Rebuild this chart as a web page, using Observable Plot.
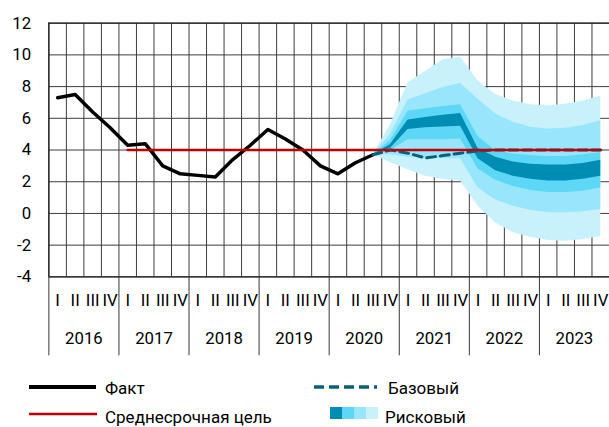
<!DOCTYPE html>
<html><head><meta charset="utf-8">
<script src="https://cdn.jsdelivr.net/npm/d3@7"></script>
<script src="https://cdn.jsdelivr.net/npm/@observablehq/plot@0.6"></script>
<style>
body{margin:0;background:#fff;font-family:Roboto,"Noto Sans",sans-serif;color:#000;}
#wrap{position:relative;width:609px;height:427px;overflow:hidden;background:#fff;}
#chart{position:absolute;left:0;top:0;}
.lt{position:absolute;font-size:17px;line-height:20px;white-space:nowrap;}
.ls{position:absolute;}
</style></head><body>
<div id="wrap"><div id="chart"></div><div id="legend"></div></div>
<script>
// ---- data ----
const years = [2016, 2017, 2018, 2019, 2020, 2021, 2022, 2023];
const quarterLabels = ["I", "II", "III", "IV"];
const yTicks = [-4, -2, 0, 2, 4, 6, 8, 10, 12];
// Факт, 2016 Q1 .. 2020 Q3
const fact = [7.3, 7.5, 6.4, 5.4, 4.3, 4.4, 3.0, 2.5, 2.4, 2.3, 3.4, 4.3, 5.3, 4.7, 4.0, 3.0, 2.5, 3.2, 3.7];
// Среднесрочная цель, from 2017 Q1
const targetValue = 4;
const targetStartQuarter = 4;
// Forecasts from 2020 Q3 to 2023 Q4
const forecastStartQuarter = 18;
const base = [3.7, 4.0, 3.8, 3.5, 3.65, 3.8, 3.95, 4.0, 4.0, 4.0, 4.0, 4.0, 4.0, 4.0];
const riskOuterTop   = [3.7, 5.6, 8.25, 8.95, 9.7, 9.85, 8.35, 7.5, 7.1, 6.85, 6.78, 6.88, 7.1, 7.4];
const riskLightTop   = [3.7, 5.0, 7.15, 7.55, 7.95, 8.2, 7.2, 6.27, 5.75, 5.44, 5.33, 5.37, 5.54, 5.85];
const riskMidTop     = [3.7, 4.6, 6.45, 6.6, 6.75, 6.85, 4.85, 3.95, 3.75, 3.65, 3.6, 3.6, 3.7, 3.85];
const riskCoreTop    = [3.7, 4.35, 5.9, 6.05, 6.2, 6.3, 4.1, 3.55, 3.25, 3.1, 3.05, 3.05, 3.15, 3.35];
const riskCoreBottom = [3.7, 4.1, 5.3, 5.4, 5.45, 5.5, 3.45, 2.7, 2.35, 2.15, 2.05, 2.05, 2.15, 2.35];
const riskMidBottom  = [3.7, 3.95, 4.65, 4.65, 4.65, 4.7, 2.8, 2.1, 1.7, 1.45, 1.32, 1.32, 1.4, 1.6];
const riskLightBottom= [3.7, 3.7, 3.55, 3.5, 3.45, 3.45, 1.6, 0.85, 0.45, 0.2, 0.05, 0.05, 0.1, 0.25];
const riskOuterBottom= [3.7, 3.2, 2.75, 2.35, 2.15, 2.05, 0.45, -0.6, -1.2, -1.5, -1.7, -1.75, -1.65, -1.45];
const bandColors = ["#c8f1fc", "#98e6fb", "#5ed7f7", "#008db4"];

// ---- derived tables ----
const nQ = years.length * 4;
const factData = fact.map((v, i) => ({x: i + 0.5, y: v}));
const fx = (i) => forecastStartQuarter + i + 0.5;
const baseData = base.map((v, i) => ({x: fx(i), y: v}));
const bands = [
  [riskOuterBottom, riskOuterTop],
  [riskLightBottom, riskLightTop],
  [riskMidBottom, riskMidTop],
  [riskCoreBottom, riskCoreTop]
].map(([lo, hi]) => lo.map((v, i) => ({x: fx(i), y1: v, y2: hi[i]})));
const targetData = d3.range(targetStartQuarter, nQ).map(q => ({x: q + 0.5, y: targetValue}));
const qBounds = d3.range(0, nQ + 1);
const yBounds = d3.range(0, nQ + 1, 4);
const qCenters = d3.range(nQ).map(q => q + 0.5);
const yCenters = years.map((y, i) => i * 4 + 2);

const chart = Plot.plot({
  width: 617, height: 372,
  marginLeft: 49, marginRight: 0, marginTop: 23, marginBottom: 92,
  style: {fontFamily: "Roboto, 'Noto Sans', sans-serif", fontSize: "17px", color: "#000", background: "transparent"},
  x: {domain: [0, nQ], axis: null},
  y: {domain: [-4, 12], axis: null},
  marks: [
    Plot.ruleX(qBounds, {y1: -4, y2: 12, stroke: "#3a3a3a", strokeWidth: 1}),
    Plot.ruleY(yTicks, {x1: 0, x2: nQ, stroke: "#3a3a3a", strokeWidth: 1}),
    ...bands.map((b, k) => Plot.areaY(b, {x: "x", y1: "y1", y2: "y2", fill: bandColors[k], fillOpacity: 1})),
    Plot.line(factData, {x: "x", y: "y", stroke: "#000", strokeWidth: 3.5, strokeLinejoin: "round"}),
    Plot.line(baseData, {x: "x", y: "y", stroke: "#0c5f78", strokeWidth: 3, strokeDasharray: "9,5"}),
    Plot.line(targetData, {x: "x", y: "y", stroke: "#c00000", strokeWidth: 2.5}),
    Plot.ruleY([-4, 12], {x1: 0, x2: nQ, stroke: "#222", strokeWidth: 1.3}),
    Plot.ruleX([0], {y1: -4, y2: 12, stroke: "#222", strokeWidth: 1.3}),
    Plot.axisY({ticks: yTicks, tickSize: 0, tickPadding: 18, label: null, tickFormat: d => d < 0 ? "-" + Math.abs(d) : String(d)}),
    Plot.axisX({ticks: qCenters, tickSize: 0, tickPadding: 17, label: null, tickFormat: d => quarterLabels[Math.floor(d) % 4]}),
    Plot.axisX({ticks: yCenters, tickSize: 0, tickPadding: 56, label: null, tickFormat: d => String(years[Math.floor(d / 4)])}),
    Plot.axisX({ticks: yBounds, tickSize: 80, label: null, tickFormat: () => "", stroke: "#333"})
  ]
});
document.getElementById("chart").appendChild(chart);

// ---- legend ----
const leg = document.getElementById("legend");
function lineSwatch(left, cy, w, color, width, dash) {
  const s = `<svg class="ls" style="left:${left}px;top:${cy - 5}px" width="${w}" height="10"><line x1="0" y1="5" x2="${w}" y2="5" stroke="${color}" stroke-width="${width}" ${dash ? `stroke-dasharray="${dash}"` : ""}/></svg>`;
  leg.insertAdjacentHTML("beforeend", s);
}
function label(left, cy, text) {
  leg.insertAdjacentHTML("beforeend", `<div class="lt" style="left:${left}px;top:${cy - 10}px">${text}</div>`);
}
lineSwatch(29, 387, 67, "#000", 4);
label(105, 388, "Факт");
lineSwatch(314, 387, 63, "#0c5f78", 3.5, "10,5");
label(388, 388, "Базовый");
lineSwatch(29, 414, 68, "#c00000", 2.5);
label(105, 417, "Среднесрочная цель");
const sw = bandColors.slice().reverse();
leg.insertAdjacentHTML("beforeend", `<svg class="ls" style="left:330px;top:407px" width="48" height="12">${sw.map((c, i) => `<rect x="${i * 12}" y="0" width="12" height="12" fill="${c}"/>`).join("")}</svg>`);
label(385, 417, "Рисковый");
</script>
</body></html>
